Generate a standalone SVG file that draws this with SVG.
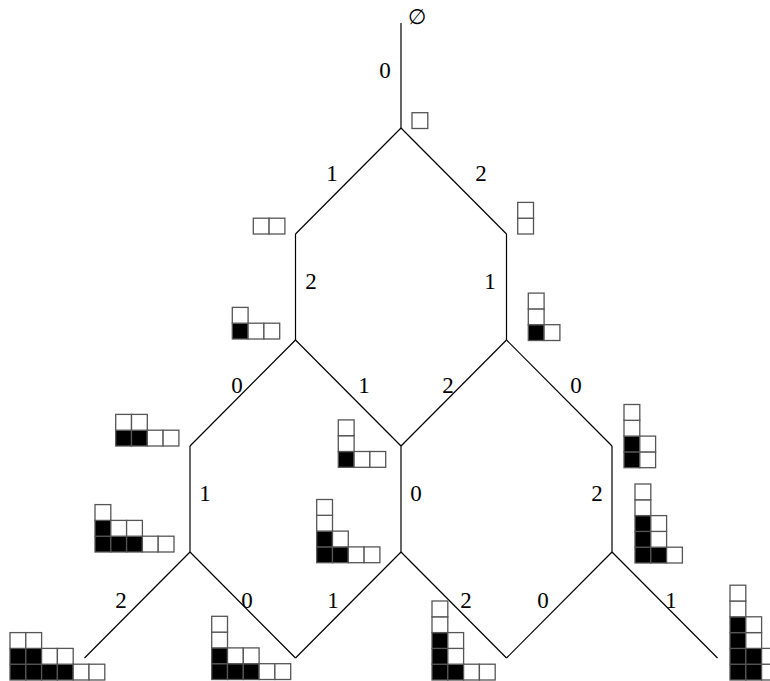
<svg xmlns="http://www.w3.org/2000/svg" width="770" height="681" viewBox="0 0 770 681">
<style>
.e{stroke:#000;stroke-width:1.2;fill:none}
.l{font-family:"Liberation Serif","DejaVu Serif",serif;font-size:23px;text-anchor:middle;fill:#000}
.w{fill:#fff;stroke:#555;stroke-width:1.3}
.b{fill:#000;stroke:#555;stroke-width:1.3}
</style>
<rect width="770" height="681" fill="#fff"/>
<g id="connectors">
<line class="e" x1="401" y1="23" x2="401" y2="128"/>
<line class="e" x1="401" y1="128" x2="295.5" y2="234"/>
<line class="e" x1="401" y1="128" x2="506.5" y2="234"/>
<line class="e" x1="295.5" y1="234" x2="295.5" y2="340"/>
<line class="e" x1="506.5" y1="234" x2="506.5" y2="340"/>
<line class="e" x1="295.5" y1="340" x2="190" y2="446"/>
<line class="e" x1="295.5" y1="340" x2="401" y2="446"/>
<line class="e" x1="506.5" y1="340" x2="401" y2="446"/>
<line class="e" x1="506.5" y1="340" x2="612" y2="446"/>
<line class="e" x1="190" y1="446" x2="190" y2="552"/>
<line class="e" x1="401" y1="446" x2="401" y2="552"/>
<line class="e" x1="612" y1="446" x2="612" y2="552"/>
<line class="e" x1="190" y1="552" x2="84.5" y2="658"/>
<line class="e" x1="190" y1="552" x2="295.5" y2="658"/>
<line class="e" x1="401" y1="552" x2="295.5" y2="658"/>
<line class="e" x1="401" y1="552" x2="506.5" y2="658"/>
<line class="e" x1="612" y1="552" x2="506.5" y2="658"/>
<line class="e" x1="612" y1="552" x2="717.5" y2="658"/>
<text class="l" x="385" y="78">0</text>
<text class="l" x="332" y="181">1</text>
<text class="l" x="481" y="181">2</text>
<text class="l" x="311" y="289">2</text>
<text class="l" x="490" y="289">1</text>
<text class="l" x="237" y="393">0</text>
<text class="l" x="364" y="393">1</text>
<text class="l" x="448" y="393">2</text>
<text class="l" x="576" y="393">0</text>
<text class="l" x="205" y="501">1</text>
<text class="l" x="416" y="501">0</text>
<text class="l" x="597" y="501">2</text>
<text class="l" x="121" y="608">2</text>
<text class="l" x="247" y="608">0</text>
<text class="l" x="333" y="608">1</text>
<text class="l" x="466" y="608">2</text>
<text class="l" x="543" y="608">0</text>
<text class="l" x="671" y="608">1</text>
</g>
<g id="n0"><text x="417" y="24" style="font-family:'DejaVu Serif',serif;font-size:21px;text-anchor:middle">∅</text></g>
<g id="n1">
<rect class="w" x="412" y="112.7" width="15.8" height="15.8"/>
</g>
<g id="n2">
<rect class="w" x="253.3" y="218.2" width="15.8" height="15.8"/>
<rect class="w" x="269.1" y="218.2" width="15.8" height="15.8"/>
</g>
<g id="n3">
<rect class="w" x="517.7" y="218.2" width="15.8" height="15.8"/>
<rect class="w" x="517.7" y="202.4" width="15.8" height="15.8"/>
</g>
<g id="n4">
<rect class="b" x="232.3" y="323.2" width="15.8" height="15.8"/>
<rect class="w" x="232.3" y="307.4" width="15.8" height="15.8"/>
<rect class="w" x="248.1" y="323.2" width="15.8" height="15.8"/>
<rect class="w" x="263.9" y="323.2" width="15.8" height="15.8"/>
</g>
<g id="n5">
<rect class="b" x="528.3" y="324.7" width="15.8" height="15.8"/>
<rect class="w" x="528.3" y="308.9" width="15.8" height="15.8"/>
<rect class="w" x="528.3" y="293.1" width="15.8" height="15.8"/>
<rect class="w" x="544.1" y="324.7" width="15.8" height="15.8"/>
</g>
<g id="n6">
<rect class="b" x="115.7" y="430.2" width="15.8" height="15.8"/>
<rect class="w" x="115.7" y="414.4" width="15.8" height="15.8"/>
<rect class="b" x="131.5" y="430.2" width="15.8" height="15.8"/>
<rect class="w" x="131.5" y="414.4" width="15.8" height="15.8"/>
<rect class="w" x="147.3" y="430.2" width="15.8" height="15.8"/>
<rect class="w" x="163.1" y="430.2" width="15.8" height="15.8"/>
</g>
<g id="n7">
<rect class="b" x="338.3" y="451.5" width="15.8" height="15.8"/>
<rect class="w" x="338.3" y="435.7" width="15.8" height="15.8"/>
<rect class="w" x="338.3" y="419.9" width="15.8" height="15.8"/>
<rect class="w" x="354.1" y="451.5" width="15.8" height="15.8"/>
<rect class="w" x="369.9" y="451.5" width="15.8" height="15.8"/>
</g>
<g id="n8">
<rect class="b" x="624" y="451.9" width="15.8" height="15.8"/>
<rect class="b" x="624" y="436.1" width="15.8" height="15.8"/>
<rect class="w" x="624" y="420.3" width="15.8" height="15.8"/>
<rect class="w" x="624" y="404.5" width="15.8" height="15.8"/>
<rect class="w" x="639.8" y="451.9" width="15.8" height="15.8"/>
<rect class="w" x="639.8" y="436.1" width="15.8" height="15.8"/>
</g>
<g id="n9">
<rect class="b" x="95" y="536.2" width="15.8" height="15.8"/>
<rect class="b" x="95" y="520.4" width="15.8" height="15.8"/>
<rect class="w" x="95" y="504.6" width="15.8" height="15.8"/>
<rect class="b" x="110.8" y="536.2" width="15.8" height="15.8"/>
<rect class="w" x="110.8" y="520.4" width="15.8" height="15.8"/>
<rect class="b" x="126.6" y="536.2" width="15.8" height="15.8"/>
<rect class="w" x="126.6" y="520.4" width="15.8" height="15.8"/>
<rect class="w" x="142.4" y="536.2" width="15.8" height="15.8"/>
<rect class="w" x="158.2" y="536.2" width="15.8" height="15.8"/>
</g>
<g id="n10">
<rect class="b" x="316.7" y="546.9" width="15.8" height="15.8"/>
<rect class="b" x="316.7" y="531.1" width="15.8" height="15.8"/>
<rect class="w" x="316.7" y="515.3" width="15.8" height="15.8"/>
<rect class="w" x="316.7" y="499.5" width="15.8" height="15.8"/>
<rect class="b" x="332.5" y="546.9" width="15.8" height="15.8"/>
<rect class="w" x="332.5" y="531.1" width="15.8" height="15.8"/>
<rect class="w" x="348.3" y="546.9" width="15.8" height="15.8"/>
<rect class="w" x="364.1" y="546.9" width="15.8" height="15.8"/>
</g>
<g id="n11">
<rect class="b" x="635" y="547.2" width="15.8" height="15.8"/>
<rect class="b" x="635" y="531.4" width="15.8" height="15.8"/>
<rect class="b" x="635" y="515.6" width="15.8" height="15.8"/>
<rect class="w" x="635" y="499.8" width="15.8" height="15.8"/>
<rect class="w" x="635" y="484" width="15.8" height="15.8"/>
<rect class="b" x="650.8" y="547.2" width="15.8" height="15.8"/>
<rect class="w" x="650.8" y="531.4" width="15.8" height="15.8"/>
<rect class="w" x="650.8" y="515.6" width="15.8" height="15.8"/>
<rect class="w" x="666.6" y="547.2" width="15.8" height="15.8"/>
</g>
<g id="n12">
<rect class="b" x="10" y="664.2" width="15.8" height="15.8"/>
<rect class="b" x="10" y="648.4" width="15.8" height="15.8"/>
<rect class="w" x="10" y="632.6" width="15.8" height="15.8"/>
<rect class="b" x="25.8" y="664.2" width="15.8" height="15.8"/>
<rect class="b" x="25.8" y="648.4" width="15.8" height="15.8"/>
<rect class="w" x="25.8" y="632.6" width="15.8" height="15.8"/>
<rect class="b" x="41.6" y="664.2" width="15.8" height="15.8"/>
<rect class="w" x="41.6" y="648.4" width="15.8" height="15.8"/>
<rect class="b" x="57.4" y="664.2" width="15.8" height="15.8"/>
<rect class="w" x="57.4" y="648.4" width="15.8" height="15.8"/>
<rect class="w" x="73.2" y="664.2" width="15.8" height="15.8"/>
<rect class="w" x="89" y="664.2" width="15.8" height="15.8"/>
</g>
<g id="n13">
<rect class="b" x="211.7" y="663.7" width="15.8" height="15.8"/>
<rect class="b" x="211.7" y="647.9" width="15.8" height="15.8"/>
<rect class="w" x="211.7" y="632.1" width="15.8" height="15.8"/>
<rect class="w" x="211.7" y="616.3" width="15.8" height="15.8"/>
<rect class="b" x="227.5" y="663.7" width="15.8" height="15.8"/>
<rect class="w" x="227.5" y="647.9" width="15.8" height="15.8"/>
<rect class="b" x="243.3" y="663.7" width="15.8" height="15.8"/>
<rect class="w" x="243.3" y="647.9" width="15.8" height="15.8"/>
<rect class="w" x="259.1" y="663.7" width="15.8" height="15.8"/>
<rect class="w" x="274.9" y="663.7" width="15.8" height="15.8"/>
</g>
<g id="n14">
<rect class="b" x="432" y="664.2" width="15.8" height="15.8"/>
<rect class="b" x="432" y="648.4" width="15.8" height="15.8"/>
<rect class="b" x="432" y="632.6" width="15.8" height="15.8"/>
<rect class="w" x="432" y="616.8" width="15.8" height="15.8"/>
<rect class="w" x="432" y="601" width="15.8" height="15.8"/>
<rect class="b" x="447.8" y="664.2" width="15.8" height="15.8"/>
<rect class="w" x="447.8" y="648.4" width="15.8" height="15.8"/>
<rect class="w" x="447.8" y="632.6" width="15.8" height="15.8"/>
<rect class="w" x="463.6" y="664.2" width="15.8" height="15.8"/>
<rect class="w" x="479.4" y="664.2" width="15.8" height="15.8"/>
</g>
<g id="n15">
<rect class="b" x="730" y="664.2" width="15.8" height="15.8"/>
<rect class="b" x="730" y="648.4" width="15.8" height="15.8"/>
<rect class="b" x="730" y="632.6" width="15.8" height="15.8"/>
<rect class="b" x="730" y="616.8" width="15.8" height="15.8"/>
<rect class="w" x="730" y="601" width="15.8" height="15.8"/>
<rect class="w" x="730" y="585.2" width="15.8" height="15.8"/>
<rect class="b" x="745.8" y="664.2" width="15.8" height="15.8"/>
<rect class="b" x="745.8" y="648.4" width="15.8" height="15.8"/>
<rect class="w" x="745.8" y="632.6" width="15.8" height="15.8"/>
<rect class="w" x="745.8" y="616.8" width="15.8" height="15.8"/>
<rect class="w" x="761.6" y="664.2" width="15.8" height="15.8"/>
<rect class="w" x="761.6" y="648.4" width="15.8" height="15.8"/>
</g>
</svg>
